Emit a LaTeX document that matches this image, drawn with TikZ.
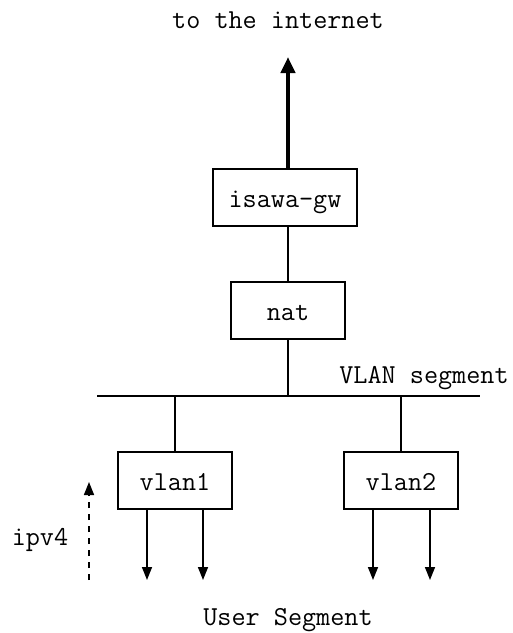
\documentclass[tikz,border=0pt]{standalone}
\usepackage{fontspec}
\usetikzlibrary{arrows.meta}

\begin{document}
\begin{tikzpicture}[x=1pt,y=-1pt,line width=1.5pt,
  >={Triangle[width=10pt,length=13pt]},
  box node/.style={draw,rectangle,minimum width=114pt,minimum height=57pt,
    text height=20pt,text depth=0pt,font=\ttfamily\fontsize{27.4}{32}\selectfont},
  label node/.style={inner sep=0pt,anchor=base,font=\ttfamily\fontsize{27.4}{32}\selectfont}]
  \useasboundingbox (0,0) rectangle (513,633);

  \node[box node,minimum width=144pt] (gw) at (285,197.5) {isawa-gw};
  \node[box node] (nat) at (288,310.5) {nat};
  \node[box node] (vlan1) at (175,480.5) {vlan1};
  \node[box node] (vlan2) at (401,480.5) {vlan2};

  \node[label node] (net) at (278,28) {to the internet};
  \node[label node] (seg) at (424,383) {VLAN segment};
  \node[label node] (user) at (288,625) {User Segment};
  \node[label node] (ip) at (40,545) {ipv4};

  \coordinate (up) at (288,57);
  \coordinate (busL) at (97,396);
  \coordinate (busR) at (480,396);
  \coordinate (u1) at (147,580);
  \coordinate (u2) at (203,580);
  \coordinate (u3) at (373,580);
  \coordinate (u4) at (430,580);
  \coordinate (ipLo) at (89,580);
  \coordinate (ipHi) at (89,482);

  % uplink
  \draw[line width=4pt,->,>={Triangle[width=14pt,length=16pt]}] (up |- gw.north) -- (up);
  \draw (nat.north) -- (nat.north |- gw.south);

  % vlan bus
  \draw (busL) -- (busR);
  \draw (nat.south) -- (nat.south |- busL);
  \draw (vlan1.north) -- (vlan1.north |- busL);
  \draw (vlan2.north) -- (vlan2.north |- busL);

  % user ports
  \draw[->] (vlan1.south -| u1) -- (u1);
  \draw[->] (vlan1.south -| u2) -- (u2);
  \draw[->] (vlan2.south -| u3) -- (u3);
  \draw[->] (vlan2.south -| u4) -- (u4);

  \draw[->,dash pattern=on 6pt off 6pt] (ipLo) -- (ipHi);
\end{tikzpicture}
\end{document}
